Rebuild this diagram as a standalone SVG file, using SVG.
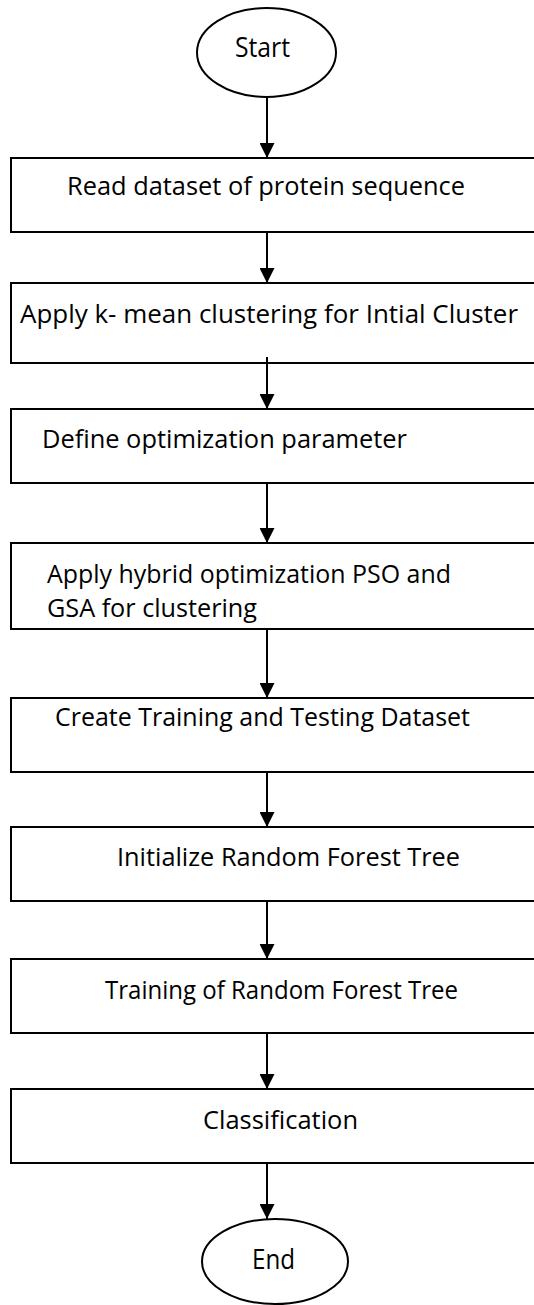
<svg xmlns="http://www.w3.org/2000/svg" width="534" height="1305" viewBox="0 0 534 1305">
<defs>
<style>
.box{fill:#fff;stroke:#000;stroke-width:2}
.term{fill:#fff;stroke:#000;stroke-width:2}
.t{font-family:"Open Sans","Noto Sans","Liberation Sans",sans-serif;font-size:26px;fill:#000}
.big{font-size:28px}
.conn line{stroke:#000;stroke-width:2;marker-end:url(#ah)}
</style>
<marker id="ah" markerUnits="userSpaceOnUse" markerWidth="15" markerHeight="15" refX="15" refY="7.5" orient="auto">
<path d="M0,0 L15,7.5 L0,15 z" fill="#000"/>
</marker>
<clipPath id="clip4"><rect x="11" y="543" width="530" height="80"/></clipPath>
</defs>
<rect width="534" height="1305" fill="#fff"/>
<g id="start">
<ellipse class="term" cx="266.5" cy="52.5" rx="69.5" ry="44.5"/>
<text class="t big" x="235" y="57" textLength="55" lengthAdjust="spacingAndGlyphs">Start</text>
</g>
<g id="n1">
<rect class="box" x="11" y="158" width="530" height="74"/>
<text class="t" x="67" y="195" textLength="398" lengthAdjust="spacingAndGlyphs">Read dataset of protein sequence</text>
</g>
<g id="n2">
<rect class="box" x="11" y="283" width="530" height="80"/>
<text class="t" x="20" y="323" textLength="498" lengthAdjust="spacingAndGlyphs">Apply  k- mean clustering for Intial Cluster</text>
</g>
<g id="n3">
<rect class="box" x="11" y="409" width="530" height="74"/>
<text class="t" x="42" y="448" textLength="365" lengthAdjust="spacingAndGlyphs">Define optimization parameter</text>
</g>
<g id="n4">
<rect class="box" x="11" y="543" width="530" height="86"/>
<g clip-path="url(#clip4)">
<text class="t" x="47" y="583" textLength="404" lengthAdjust="spacingAndGlyphs">Apply hybrid optimization PSO and</text>
<text class="t" x="47" y="617" textLength="210" lengthAdjust="spacingAndGlyphs">GSA for clustering</text>
</g>
</g>
<g id="n5">
<rect class="box" x="11" y="698" width="530" height="74"/>
<text class="t" x="55" y="726" textLength="415" lengthAdjust="spacingAndGlyphs">Create Training and Testing Dataset</text>
</g>
<g id="n6">
<rect class="box" x="11" y="827" width="530" height="74"/>
<text class="t" x="117" y="866" textLength="343" lengthAdjust="spacingAndGlyphs">Initialize Random Forest Tree</text>
</g>
<g id="n7">
<rect class="box" x="11" y="959" width="530" height="74"/>
<text class="t" x="105" y="999" textLength="353" lengthAdjust="spacingAndGlyphs">Training of Random Forest Tree</text>
</g>
<g id="n8">
<rect class="box" x="11" y="1089" width="530" height="74"/>
<text class="t" x="203" y="1129" textLength="155" lengthAdjust="spacingAndGlyphs">Classification</text>
</g>
<g id="end">
<ellipse class="term" cx="275" cy="1261.5" rx="73" ry="42.5"/>
<text class="t big" x="252" y="1269" textLength="43" lengthAdjust="spacingAndGlyphs">End</text>
</g>
<g id="connectors" class="conn">
<line x1="267" y1="97" x2="267" y2="158"/>
<line x1="267" y1="232" x2="267" y2="283"/>
<line x1="267" y1="357" x2="267" y2="409"/>
<line x1="267" y1="483" x2="267" y2="543"/>
<line x1="267" y1="629" x2="267" y2="698"/>
<line x1="267" y1="772" x2="267" y2="827"/>
<line x1="267" y1="901" x2="267" y2="959"/>
<line x1="267" y1="1033" x2="267" y2="1089"/>
<line x1="267" y1="1163" x2="267" y2="1219"/>
</g>
</svg>
